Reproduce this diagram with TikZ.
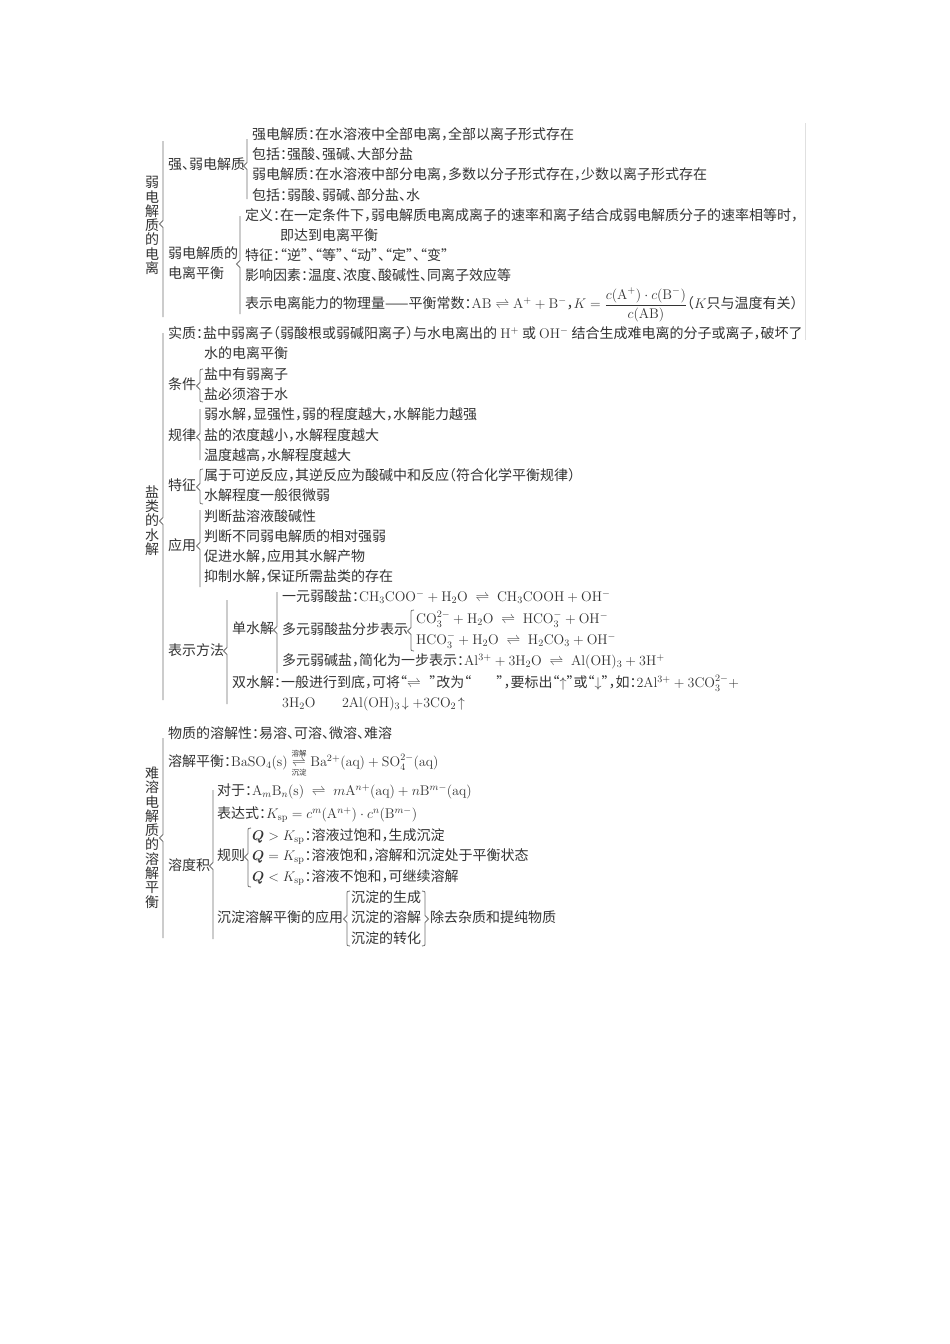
\RequirePackage{fix-cm}
\documentclass[tikz,border=0pt]{standalone}
\usepackage{amsmath}
\usepackage[no-math]{fontspec}
\setmainfont[RawFeature=+halt]{Noto Sans CJK SC}
\definecolor{ink}{HTML}{333333}
\definecolor{brcol}{HTML}{707070}
\newcommand{\eqa}{\mathrel{\;\rightleftharpoons\;}}
\newcommand{\lab}[1]{\text{\fontsize{7.5}{8}\selectfont #1}}
\tikzset{
  txt/.style={anchor=west, inner sep=0pt, text height=10pt, text depth=3pt, text=ink, font=\fontsize{14}{16}\selectfont},
  vtxt/.style={inner sep=0pt, align=center, text=ink, font=\fontsize{14}{14.3}\selectfont},
  brc/.style={draw=brcol, line width=0.8pt, line join=miter},
}
\newcommand{\lbr}[4]{\draw[brc] (#1,#2) -- (#1,#4-3.5) -- (#1-3.5,#4) -- (#1,#4+3.5) -- (#1,#3);}
\newcommand{\cbr}[4]{\draw[brc] (#1+3,#2) .. controls (#1,#2) .. (#1,#2+4) -- (#1,#4-3.5) -- (#1-3.5,#4) -- (#1,#4+3.5) -- (#1,#3-4) .. controls (#1,#3) .. (#1+3,#3);}
\newcommand{\rbr}[4]{\draw[brc] (#1-3,#2) .. controls (#1,#2) .. (#1,#2+4) -- (#1,#4-3.5) -- (#1+3.5,#4) -- (#1,#4+3.5) -- (#1,#3-4) .. controls (#1,#3) .. (#1-3,#3);}
\begin{document}
\begin{tikzpicture}[x=1pt,y=-1pt]
\fill[white] (0,0) rectangle (950,1344);
\useasboundingbox (0,0) rectangle (950,1344);
\draw[black!12, line width=0.6pt] (805,123) -- (805,340);

% ---------- Section 1 ----------
\node[vtxt] (v1) at (152,225.5) {弱\\电\\解\\质\\的\\电\\离};
\lbr{163}{141}{317}{224}
\node[txt] (s1a) at (168,166) {强、弱电解质};
\lbr{247}{139}{199}{166}
\node[txt] (s1a1) at (252,136) {强电解质：在水溶液中全部电离，全部以离子形式存在};
\node[txt] (s1a2) at (252,156) {包括：强酸、强碱、大部分盐};
\node[txt] (s1a3) at (252,176) {弱电解质：在水溶液中部分电离，多数以分子形式存在，少数以离子形式存在};
\node[txt] (s1a4) at (252,197) {包括：弱酸、弱碱、部分盐、水};
\node[txt] (s1b) at (168,255) {弱电解质的};
\node[txt] (s1b0) at (168,275) {电离平衡};
\lbr{240}{216}{314}{264}
\node[txt] (s1b1) at (245,217) {定义：在一定条件下，弱电解质电离成离子的速率和离子结合成弱电解质分子的速率相等时，};
\node[txt] (s1b1c) at (280,237) {即达到电离平衡};
\node[txt] (s1b2) at (245,257) {特征：“逆”、“等”、“动”、“定”、“变”};
\node[txt] (s1b3) at (245,277) {影响因素：温度、浓度、酸碱性、同离子效应等};
\node[txt] (s1b4) at (245,305) {表示电离能力的物理量——平衡常数：$\mathrm{AB}\rightleftharpoons\mathrm{A^+}+\mathrm{B^-}$，$K=\dfrac{c(\mathrm{A^+})\cdot c(\mathrm{B^-})}{c(\mathrm{AB})}$（$K$只与温度有关）};

% ---------- Section 2 ----------
\node[vtxt] (v2) at (152,520.5) {盐\\类\\的\\水\\解};
\lbr{163}{333}{700}{521}
\node[txt] (s2a) at (168,335) {实质：盐中弱离子（弱酸根或弱碱阳离子）与水电离出的 $\mathrm{H^+}$ 或 $\mathrm{OH^-}$ 结合生成难电离的分子或离子，破坏了};
\node[txt] (s2a2) at (204,355) {水的电离平衡};
\node[txt] (s2b) at (168,386) {条件};
\cbr{200}{369}{402}{386}
\node[txt] (s2b1) at (204,376) {盐中有弱离子};
\node[txt] (s2b2) at (204,396) {盐必须溶于水};
\node[txt] (s2c) at (168,437) {规律};
\lbr{200}{409}{460}{437}
\node[txt] (s2c1) at (204,416) {弱水解，显强性，弱的程度越大，水解能力越强};
\node[txt] (s2c2) at (204,437) {盐的浓度越小，水解程度越大};
\node[txt] (s2c3) at (204,457) {温度越高，水解程度越大};
\node[txt] (s2d) at (168,487) {特征};
\cbr{200}{469}{504}{487}
\node[txt] (s2d1) at (204,477) {属于可逆反应，其逆反应为酸碱中和反应（符合化学平衡规律）};
\node[txt] (s2d2) at (204,497) {水解程度一般很微弱};
\node[txt] (s2e) at (168,547) {应用};
\lbr{200}{510}{587}{546}
\node[txt] (s2e1) at (204,518) {判断盐溶液酸碱性};
\node[txt] (s2e2) at (204,538) {判断不同弱电解质的相对强弱};
\node[txt] (s2e3) at (204,558) {促进水解，应用其水解产物};
\node[txt] (s2e4) at (204,578) {抑制水解，保证所需盐类的存在};
\node[txt] (s2f) at (168,652) {表示方法};
\lbr{227}{600}{704}{651}
\node[txt] (s2g) at (232,630) {单水解};
\lbr{277}{592}{673}{630}
\node[txt] (s2g1) at (282,598) {一元弱酸盐：$\mathrm{CH_3COO^-}+\mathrm{H_2O}\eqa\mathrm{CH_3COOH}+\mathrm{OH^-}$};
\node[txt] (s2g2) at (282,631) {多元弱酸盐分步表示};
\cbr{411}{610}{651}{631}
\node[txt] (s2g2a) at (416,620) {$\mathrm{CO_3^{2-}}+\mathrm{H_2O}\eqa\mathrm{HCO_3^-}+\mathrm{OH^-}$};
\node[txt] (s2g2b) at (416,641) {$\mathrm{HCO_3^-}+\mathrm{H_2O}\eqa\mathrm{H_2CO_3}+\mathrm{OH^-}$};
\node[txt] (s2g3) at (282,662) {多元弱碱盐，简化为一步表示：$\mathrm{Al^{3+}}+3\mathrm{H_2O}\eqa\mathrm{Al(OH)_3}+3\mathrm{H^+}$};
\node[txt] (s2h) at (232,684) {双水解：一般进行到底，可将“$\rightleftharpoons$\hspace{0.6em}”改为“\hspace{1.8em}”，要标出“$\uparrow$”或“$\downarrow$”，如：$2\mathrm{Al^{3+}}+3\mathrm{CO_3^{2-}}+$};
\node[txt] (s2h2) at (282,704) {$3\mathrm{H_2O}$\hspace{1.9em}$2\mathrm{Al(OH)_3}\!\downarrow+3\mathrm{CO_2}\!\uparrow$};

% ---------- Section 3 ----------
\node[vtxt] (v3) at (152,837.5) {难\\溶\\电\\解\\质\\的\\溶\\解\\平\\衡};
\lbr{163}{738}{938}{838}
\node[txt] (s3a) at (168,735) {物质的溶解性：易溶、可溶、微溶、难溶};
\node[txt] (s3b) at (168,763) {溶解平衡：$\mathrm{BaSO_4(s)}\underset{\lab{沉淀}}{\overset{\lab{溶解}}{\rightleftharpoons}}\mathrm{Ba^{2+}(aq)}+\mathrm{SO_4^{2-}(aq)}$};
\node[txt] (s3c) at (168,867) {溶度积};
\lbr{213}{790}{939}{866}
\node[txt] (s3c1) at (217,792) {对于：$\mathrm{A}_m\mathrm{B}_n(\mathrm{s})\eqa m\mathrm{A}^{n+}(\mathrm{aq})+n\mathrm{B}^{m-}(\mathrm{aq})$};
\node[txt] (s3c2) at (217,815) {表达式：$K_{\mathrm{sp}}=c^m(\mathrm{A}^{n+})\cdot c^n(\mathrm{B}^{m-})$};
\node[txt] (s3d) at (217,857) {规则};
\cbr{248}{828}{887}{857}
\node[txt] (s3d1) at (252,837) {$\boldsymbol{Q}>K_{\mathrm{sp}}$：溶液过饱和，生成沉淀};
\node[txt] (s3d2) at (252,857) {$\boldsymbol{Q}=K_{\mathrm{sp}}$：溶液饱和，溶解和沉淀处于平衡状态};
\node[txt] (s3d3) at (252,878) {$\boldsymbol{Q}<K_{\mathrm{sp}}$：溶液不饱和，可继续溶解};
\node[txt] (s3e) at (217,919) {沉淀溶解平衡的应用};
\cbr{347}{891}{946}{919}
\node[txt] (s3e1) at (351,899) {沉淀的生成};
\node[txt] (s3e2) at (351,919) {沉淀的溶解};
\node[txt] (s3e3) at (351,940) {沉淀的转化};
\rbr{425}{891}{946}{919}
\node[txt] (s3f) at (430,919) {除去杂质和提纯物质};
\end{tikzpicture}
\end{document}
